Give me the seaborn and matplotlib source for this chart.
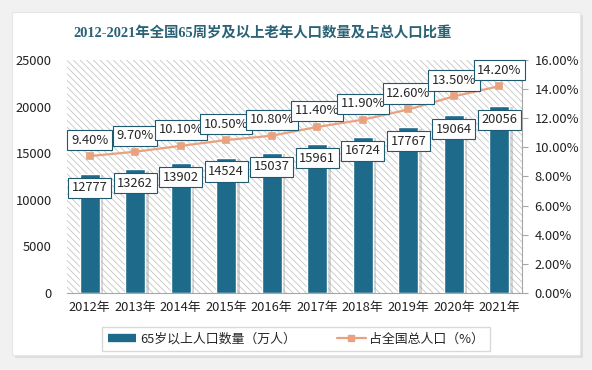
import matplotlib
matplotlib.use('Agg')
import matplotlib.pyplot as plt
import matplotlib.patches as mpatches
import matplotlib.patheffects as pe
from matplotlib.lines import Line2D
from matplotlib.ticker import FuncFormatter
import pandas as pd
import seaborn as sns

years = ['2012年', '2013年', '2014年', '2015年', '2016年',
         '2017年', '2018年', '2019年', '2020年', '2021年']
population = [12777, 13262, 13902, 14524, 15037, 15961, 16724, 17767, 19064, 20056]
ratio = [9.4, 9.7, 10.1, 10.5, 10.8, 11.4, 11.9, 12.6, 13.5, 14.2]

title = '2012-2021年全国65周岁及以上老年人口数量及占总人口比重'
bar_name = '65岁以上人口数量（万人）'
line_name = '占全国总人口（%）'

BAR_COLOR = '#1d6a8b'
LINE_COLOR = '#e9a27f'
BOX_EDGE = '#1f5a70'
FS = 9.3

sns.set_style('white')
plt.rcParams['font.family'] = ['Noto Sans CJK SC', 'DejaVu Sans']
plt.rcParams['hatch.linewidth'] = 0.6

data = pd.DataFrame({'year': years, 'population': population, 'ratio': ratio})

fig = plt.figure(figsize=(5.92, 3.70), dpi=100, facecolor='#f1f1f1')
# white card with a soft shadow
fig.patches.append(mpatches.Rectangle((0.025, 0.033), 0.959, 0.927, transform=fig.transFigure,
                                      facecolor='#dedede', edgecolor='none', zorder=-2))
fig.patches.append(mpatches.Rectangle((0.020, 0.041), 0.959, 0.927, transform=fig.transFigure,
                                      facecolor='white', edgecolor='#e6e6e6', lw=0.8, zorder=-1))

ax = fig.add_axes([0.113, 0.208, 0.769, 0.630])
ax.set_facecolor('none')
ax.add_patch(mpatches.Rectangle((0, 0), 1, 1, transform=ax.transAxes, facecolor='white',
                                edgecolor='#c6c6c6', lw=0, hatch='\\\\\\\\\\', zorder=0))

sns.barplot(data=data, x='year', y='population', color=BAR_COLOR, width=0.44,
            saturation=1, ax=ax, zorder=2)
for bar in ax.patches[1:]:
    bar.set_path_effects([pe.SimplePatchShadow(offset=(2.5, -1), shadow_rgbFace='#888888', alpha=0.35),
                          pe.Normal()])

ax.set_ylim(0, 25000)
ax.set_xlim(-0.5, 9.5)
ax.set_yticks(range(0, 25001, 5000))
ax.set_xlabel('')
ax.set_ylabel('')
for s in ['top', 'left', 'right']:
    ax.spines[s].set_visible(False)
ax.spines['bottom'].set_color('#a6a6a6')
ax.tick_params(axis='both', length=0, labelsize=FS, colors='#222222')
ax.tick_params(axis='y', pad=11)
ax.tick_params(axis='x', pad=6)

for i, v in enumerate(population):
    ax.annotate(str(v), (i, v), xytext=(0, -10), textcoords='offset points',
                ha='center', va='center', fontsize=FS, zorder=5,
                bbox=dict(boxstyle='square,pad=0.28', fc='white', ec=BOX_EDGE, lw=0.8))

ax2 = ax.twinx()
ax2.set_position(ax.get_position())
sns.pointplot(data=data, x='year', y='ratio', color=LINE_COLOR, markers='s',
              markersize=5, linewidth=1.6, ax=ax2)
ax2.set_ylim(0, 16)
ax2.set_xlim(-0.5, 9.5)
ax2.set_yticks(range(0, 17, 2))
ax2.yaxis.set_major_formatter(FuncFormatter(lambda v, p: f'{v:.2f}%'))
ax2.set_ylabel('')
ax2.set_xlabel('')
for s in ['top', 'left', 'bottom']:
    ax2.spines[s].set_visible(False)
ax2.spines['right'].set_color('#a6a6a6')
ax2.tick_params(axis='y', direction='out', length=4, color='#a6a6a6', pad=5,
                labelsize=FS, labelcolor='#222222')

for i, v in enumerate(ratio):
    ax2.annotate(f'{v:.2f}%', (i, v), xytext=(0, 11.5), textcoords='offset points',
                 ha='center', va='center', fontsize=FS, zorder=5,
                 bbox=dict(boxstyle='square,pad=0.28', fc='white', ec=BOX_EDGE, lw=0.8))

fig.text(0.443, 0.91, title, ha='center', va='center', fontsize=10.4, fontweight='bold',
         color='#2a6376', family=['Liberation Serif', 'Noto Sans CJK SC'])

handles = [Line2D([], [], color=BAR_COLOR, lw=6, solid_capstyle='butt'),
           Line2D([], [], color=LINE_COLOR, marker='s', markersize=5, lw=1.6)]
fig.legend(handles, [bar_name, line_name], loc='center', bbox_to_anchor=(0.5, 0.084),
           ncol=2, fontsize=FS, frameon=True, fancybox=False, edgecolor='#d0d0d0',
           columnspacing=3.2, handlelength=2.2, handletextpad=0.3, borderpad=0.45,
           borderaxespad=0)

fig.savefig('out.png', dpi=100, facecolor=fig.get_facecolor())
